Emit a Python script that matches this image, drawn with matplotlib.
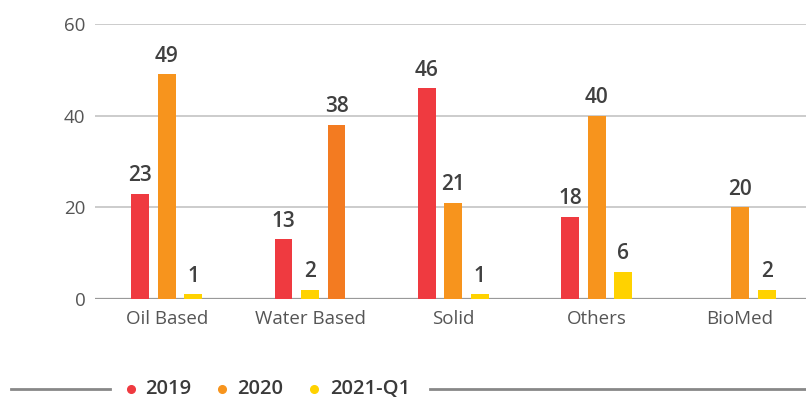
import matplotlib
matplotlib.use("Agg")
import matplotlib.pyplot as plt
from matplotlib.lines import Line2D
import numpy as np

plt.rcParams['font.family'] = ['Open Sans', 'DejaVu Sans']

categories = ["Oil Based", "Water Based", "Solid", "Others", "BioMed"]
series_names = ["2019", "2020", "2021-Q1"]
values_2019 = [23, 13, 46, 18, None]
values_2020 = [49, 38, 21, 40, 20]
values_2021q1 = [1, 2, 1, 6, 2]
y_ticks = [0, 20, 40, 60]

# slot order of the series inside each category group (left, middle, right)
slot_order = {
    "Water Based": ["2019", "2021-Q1", "2020"],
}

colors = {"2019": "#EF3A40", "2020": "#F7941D", "2021-Q1": "#FFD200"}
color_override = {("Water Based", "2020"): "#F37B21"}

series = dict(zip(series_names, [values_2019, values_2020, values_2021q1]))

fig = plt.figure(figsize=(8.06, 3.98), dpi=100)
ax = fig.add_axes([95 / 806, 99 / 398, 711 / 806, 275 / 398])

bar_w = 0.125
offsets = [-0.185, 0.0, 0.185]
x = np.arange(len(categories))

for i, cat in enumerate(categories):
    order = slot_order.get(cat, series_names)
    for slot, name in enumerate(order):
        v = series[name][i]
        if v is None:
            continue
        c = color_override.get((cat, name), colors[name])
        xpos = x[i] + offsets[slot]
        ax.bar(xpos, v, width=bar_w, color=c, zorder=3)
        ax.annotate(f"{v}", (xpos, v), xytext=(0, 5.5), textcoords="offset points",
                    ha="center", va="bottom", fontsize=15, fontweight="semibold",
                    color="#404040", zorder=4)

ax.set_xlim(-0.5, 4.46)
ax.set_ylim(0, 60)
ax.set_yticks(y_ticks)
ax.set_xticks(x)
ax.set_xticklabels(categories)
ax.grid(axis="y", color="#cccccc", linewidth=1.4, zorder=0)
ax.axhline(0, color="#999999", linewidth=1.6, zorder=2)
for s in ax.spines.values():
    s.set_visible(False)
ax.tick_params(axis="y", length=0, pad=7, labelsize=13.5, labelcolor="#555555")
ax.tick_params(axis="x", length=0, pad=8, labelsize=13.5, labelcolor="#555555")

# legend row with rules on both sides
ly = 1 - 389 / 398
fig.add_artist(Line2D([11 / 806, 110 / 806], [ly, ly], color="#888888", linewidth=2,
                      transform=fig.transFigure))
fig.add_artist(Line2D([430 / 806, 806 / 806], [ly, ly], color="#888888", linewidth=2,
                      transform=fig.transFigure))
dot_x = [131, 222, 314]
text_x = [145, 237, 330]
for name, dx, tx in zip(series_names, dot_x, text_x):
    fig.add_artist(Line2D([dx / 806], [ly], marker="o", markersize=5.5, linestyle="none",
                          color=colors[name], transform=fig.transFigure))
    fig.text(tx / 806, ly, name, ha="left", va="center", fontsize=14.5,
             fontweight="semibold", color="#3a3a3a")

fig.savefig("out.png", dpi=100)
